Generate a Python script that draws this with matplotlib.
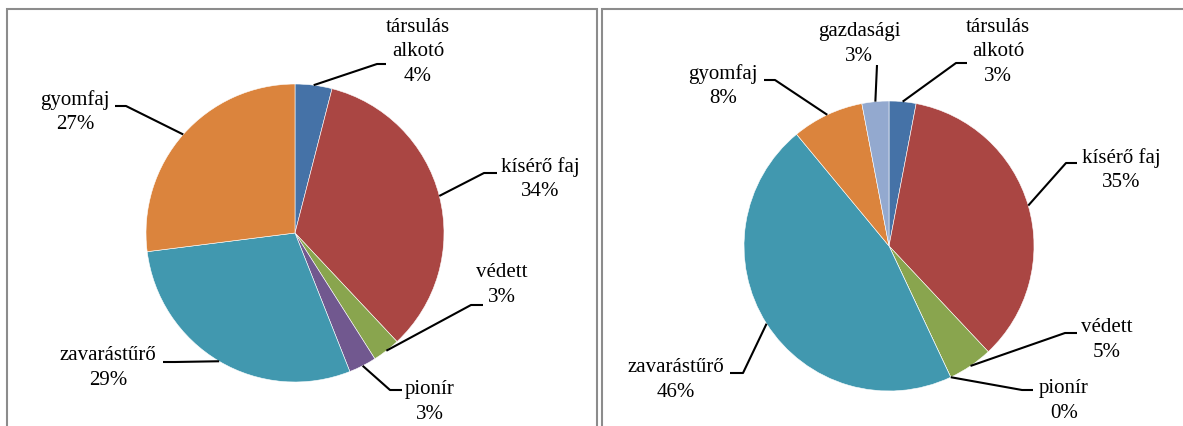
import numpy as np
import matplotlib.pyplot as plt
from matplotlib.patches import Rectangle

# chart values (percent)
left_names = ["társulás\nalkotó", "kísérő faj", "védett", "pionír", "zavarástűrő", "gyomfaj"]
left_values = [4, 34, 3, 3, 29, 27]

right_names = ["társulás\nalkotó", "kísérő faj", "védett", "pionír", "zavarástűrő", "gyomfaj", "gazdasági"]
right_values = [3, 35, 5, 0, 46, 8, 3]

colors = ["#4572A7", "#AA4643", "#89A54E", "#71588F", "#4198AF", "#DB843D", "#93A9CF"]

W, H = 1183, 426

# layout in pixel units (y measured from top)
left_layout = dict(center=(295, 233), radius=149,
                   text=[(418, 52), (540, 179), (502, 285), (430, 402), (108, 368), (75, 112)],
                   elbow=[(377, 64), (484, 173), (471, 305), (390, 390), (175, 362), (126, 106)],
                   stub=[(386, 64), (497, 173), (483, 305), (402, 390), (163, 362), (115, 106)])
right_layout = dict(center=(889, 246), radius=145,
                    text=[(998, 52), (1121, 170), (1107, 340), (1064, 401), (676, 380), (723, 86), (859, 44)],
                    elbow=[(956, 63), (1066, 163), (1065, 333), (1022, 390), (743, 373), (775, 80), (877, 65)],
                    stub=[(967, 63), (1077, 163), (1077, 333), (1033, 390), (730, 373), (764, 80), (877, 65)])

fig = plt.figure(figsize=(W / 100, H / 100), dpi=100)
ax = fig.add_axes([0, 0, 1, 1])


def draw(names, values, lay):
    cx, cy = lay["center"]
    r = lay["radius"]
    wedges, _ = ax.pie(values, colors=colors[:len(values)], startangle=90, counterclock=False,
                       center=(cx, H - cy), radius=r,
                       wedgeprops=dict(edgecolor="white", linewidth=0.4))
    for w, name, v, (tx, ty), (ex, ey), (sx, sy) in zip(wedges, names, values,
                                                         lay["text"], lay["elbow"], lay["stub"]):
        mid = np.deg2rad((w.theta1 + w.theta2) / 2)
        px, py = cx + r * np.cos(mid), (H - cy) + r * np.sin(mid)
        ax.plot([px, ex, sx], [py, H - ey, H - sy], color="black", lw=1.5, solid_capstyle="butt")
        ax.text(tx, H - ty, "%s\n%d%%" % (name, v), ha="center", va="center",
                multialignment="center", fontsize=15, family="Liberation Serif",
                linespacing=1.4)


draw(left_names, left_values, left_layout)
draw(right_names, right_values, right_layout)

# chart borders
ax.add_patch(Rectangle((7, -20), 590, H - 9 + 20, fill=False, edgecolor="#8c8c8c", lw=1.5))
ax.add_patch(Rectangle((602, -20), 640, H - 9 + 20, fill=False, edgecolor="#8c8c8c", lw=1.5))

ax.set_xlim(0, W)
ax.set_ylim(0, H)
ax.set_aspect("auto")
ax.axis("off")

fig.savefig("out.png", dpi=100)
